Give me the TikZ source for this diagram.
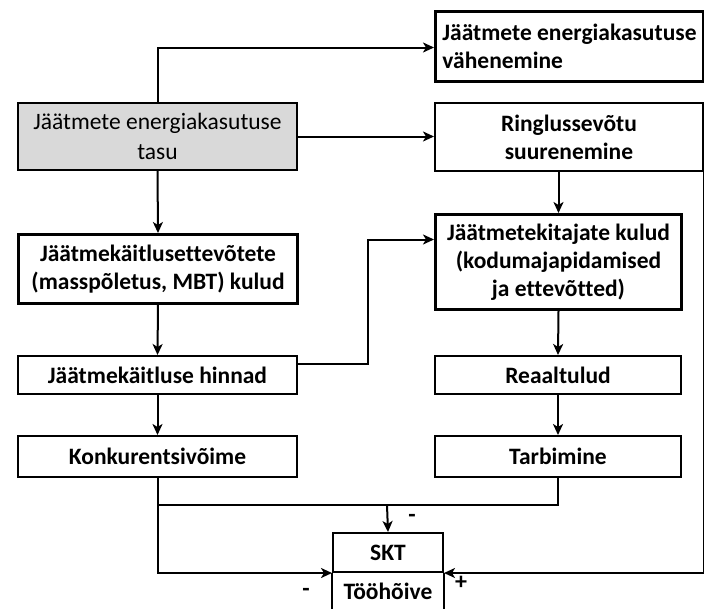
\documentclass[tikz,border=0pt]{standalone}
\usepackage{fontspec}
\setmainfont{Carlito}[Ligatures=NoCommon]
\usetikzlibrary{arrows.meta}
\begin{document}
\begin{tikzpicture}[x=1pt,y=-1pt,
  box/.style={draw, line width=2pt, inner sep=0pt, anchor=north west, align=center,
    font=\fontsize{23.5}{28}\selectfont\bfseries},
  thickbox/.style={box, line width=3pt},
  arr/.style={line width=2pt, -{Stealth[length=11pt,width=10pt,inset=3pt]}},
  ln/.style={line width=2pt},
  sign/.style={font=\fontsize{24}{26}\selectfont\bfseries, inner sep=0pt}]
\useasboundingbox (0,0) rectangle (704,608);
\clip (0,0) rectangle (704,608);
% boxes
\node[thickbox, minimum width=268pt, minimum height=70pt, align=left] (top) at (434,10)
  {Jäätmete energiakasutuse\\vähenemine};
\node[box, fill=black!15, minimum width=279pt, minimum height=67pt, font=\fontsize{23.5}{30}\selectfont] (gray) at (17,102)
  {Jäätmete energiakasutuse\\tasu};
\node[box, minimum width=268pt, minimum height=68pt] (ring) at (434,102)
  {Ringlussevõtu\\suurenemine};
\node[thickbox, minimum width=279pt, minimum height=69pt] (kait) at (17,233)
  {Jäätmekäitlusettevõtete\\(masspõletus, MBT) kulud};
\node[thickbox, minimum width=246pt, minimum height=95pt] (tekit) at (434,213)
  {Jäätmetekitajate kulud\\(kodumajapidamised\\ja ettevõtted)};
\node[box, minimum width=279pt, minimum height=38pt] (hinnad) at (17,355) {Jäätmekäitluse hinnad};
\node[box, minimum width=246pt, minimum height=38pt] (reaal) at (434,355) {Reaaltulud};
\node[box, minimum width=279pt, minimum height=41pt] (konk) at (17,435) {Konkurentsivõime};
\node[box, minimum width=246pt, minimum height=41pt] (tarb) at (434,435) {Tarbimine};
\node[box, minimum width=110pt, minimum height=39pt] (skta) at (332,532) {SKT};
\node[box, draw=none, minimum width=110pt, minimum height=38pt] (sktb) at (332,571) {Tööhõive};
\draw[ln] (skta.south west) -- ([yshift=-50pt]skta.south west);
\draw[ln] (skta.south east) -- ([yshift=-50pt]skta.south east);
% connectors
\draw[arr] (gray.north) |- ([yshift=-1pt]top.west);
\draw[arr] (gray.east) -- (ring.west |- gray.east);
\draw[arr] (gray.south) -- (kait.north);
\draw[arr] (ring.south -| tekit.north) -- (tekit.north);
\draw[arr] (kait.south) -- (hinnad.north);
\draw[arr] ([yshift=11pt]hinnad.east) -- ++(70,0) |- ([yshift=22.5pt]tekit.west);
\draw[arr] (tekit.south) -- (reaal.north);
\draw[arr] (hinnad.south) -- (konk.north);
\draw[arr] (reaal.south) -- (tarb.north);
\coordinate (j) at (387,505);
\draw[arr] (konk.south) |- (skta.south west);
\draw[ln] (tarb.south) |- (konk.south |- j);
\draw[arr] (j) -- (skta.north);
\draw[arr] (ring.south east) |- (skta.south east);
% signs
\node[sign] (s1) at (412,518) {-};
\node[sign] (s2) at (461,583) {+};
\node[sign] (s3) at (306,592) {-};
\end{tikzpicture}
\end{document}
